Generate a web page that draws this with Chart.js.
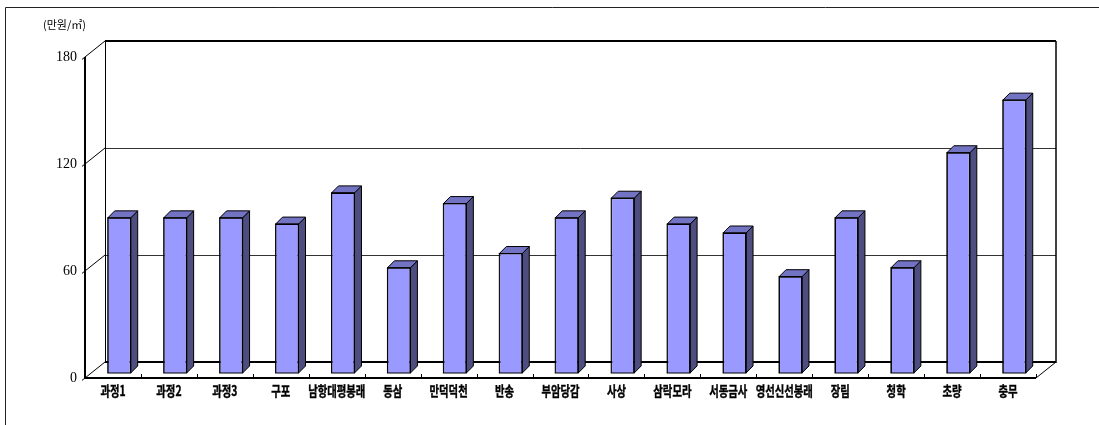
<!DOCTYPE html>
<html>
<head>
<meta charset="utf-8">
<script src="https://cdn.jsdelivr.net/npm/chart.js@4.4.1/dist/chart.umd.min.js"></script>
<style>
  html, body { margin: 0; padding: 0; background: #fff; }
  #wrap { width: 1099px; height: 425px; }
</style>
</head>
<body>
<div id="wrap"><canvas id="myChart" width="1099" height="425"></canvas></div>
<script>
var labels = ["과정1", "과정2", "과정3", "구포", "남항대평봉래", "동삼", "만덕덕천", "반송", "부암당감",
              "사상", "삼락모라", "서동금사", "영선신선봉래", "장림", "청학", "초량", "충무"];
var prices = [87, 87, 87, 83.5, 101, 59, 95, 67, 87, 98, 83.5, 78.5, 54, 87, 59, 123.5, 153];
var yTicks = [0, 60, 120, 180];
var unitLabel = "(만원/㎡)";

// box depth (front plane -> back wall) and bar placement inside it
var DEPTH_X = 20, DEPTH_Y = 16;
var BAR_SHIFT_X = 6.25, BAR_SHIFT_Y = 5;
var BAR_DX = 7, BAR_DY = 7;

function line(ctx, x1, y1, x2, y2) {
    ctx.beginPath();
    ctx.moveTo(x1, y1);
    ctx.lineTo(x2, y2);
    ctx.stroke();
}

var box3d = {
    id: 'box3d',
    beforeDatasetsDraw: function (chart) {
        var ctx = chart.ctx, a = chart.chartArea, ys = chart.scales.y;
        var L = a.left, R = a.right, B = a.bottom, T = a.top;
        ctx.save();
        ctx.strokeStyle = '#000';

        // back wall grid lines + diagonals on the left wall
        yTicks.forEach(function (v) {
            var yf = ys.getPixelForValue(v), yb = yf - DEPTH_Y;
            if (v === 0 || v === yTicks[yTicks.length - 1]) {
                ctx.lineWidth = 2;
                ctx.strokeStyle = '#000';
                line(ctx, L + DEPTH_X, Math.round(yb), R + DEPTH_X, Math.round(yb));
            } else {
                ctx.lineWidth = 1;
                ctx.strokeStyle = '#333';
                line(ctx, L + DEPTH_X, Math.round(yb) + 0.5, R + DEPTH_X, Math.round(yb) + 0.5);
            }
            ctx.strokeStyle = '#000';
            ctx.lineWidth = 1;
            line(ctx, L - 3, yf + 2.4, L + DEPTH_X, yb);
        });

        // back wall verticals
        ctx.lineWidth = 1;
        line(ctx, L + DEPTH_X + 0.5, T - DEPTH_Y, L + DEPTH_X + 0.5, B - DEPTH_Y);
        ctx.lineWidth = 1.5;
        line(ctx, R + DEPTH_X, T - DEPTH_Y, R + DEPTH_X, B - DEPTH_Y + 1);

        // floor right edge
        ctx.lineWidth = 1;
        line(ctx, R, B, R + DEPTH_X, B - DEPTH_Y);

        // front axes
        ctx.lineWidth = 2;
        line(ctx, L, T, L, B + 1);
        line(ctx, L, B, R, B);

        // category tick marks on the floor edge
        ctx.lineWidth = 1;
        var step = (R - L) / labels.length;
        for (var k = 0; k <= labels.length; k++) {
            var tx = Math.round(L + step * k) + 0.5;
            line(ctx, tx, B - 4, tx, B);
        }
        ctx.restore();

        // bars sit a little behind the front plane
        ctx.save();
        ctx.translate(BAR_SHIFT_X, -BAR_SHIFT_Y);
    },
    afterDatasetsDraw: function (chart) {
        var ctx = chart.ctx;
        var meta = chart.getDatasetMeta(0);
        ctx.lineWidth = 1;
        ctx.strokeStyle = '#000';
        meta.data.forEach(function (bar) {
            var p = bar.getProps(['x', 'y', 'base', 'width'], true);
            var l = p.x - p.width / 2, r = p.x + p.width / 2, t = p.y, b = p.base;
            // side face
            ctx.beginPath();
            ctx.moveTo(r, t);
            ctx.lineTo(r + BAR_DX, t - BAR_DY);
            ctx.lineTo(r + BAR_DX, b - BAR_DY);
            ctx.lineTo(r, b);
            ctx.closePath();
            ctx.fillStyle = '#4D4D80';
            ctx.fill();
            ctx.stroke();
            // top face
            ctx.beginPath();
            ctx.moveTo(l, t);
            ctx.lineTo(l + BAR_DX, t - BAR_DY);
            ctx.lineTo(r + BAR_DX, t - BAR_DY);
            ctx.lineTo(r, t);
            ctx.closePath();
            ctx.fillStyle = '#7373C4';
            ctx.fill();
            ctx.stroke();
            // front outline
            ctx.strokeRect(l, t, r - l, b - t);
        });
        ctx.restore();

        // category labels (condensed bold)
        var xs = chart.scales.x, a = chart.chartArea;
        ctx.save();
        ctx.fillStyle = '#000';
        ctx.strokeStyle = '#000';
        ctx.lineWidth = 0.4;
        ctx.font = 'bold 14px "Noto Sans CJK KR"';
        ctx.textAlign = 'center';
        ctx.textBaseline = 'middle';
        labels.forEach(function (t, i) {
            ctx.save();
            ctx.translate(xs.getPixelForValue(i), a.bottom + 13);
            ctx.scale(0.74, 1);
            ctx.fillText(t, 0, 0);
            ctx.strokeText(t, 0, 0);
            ctx.restore();
        });
        ctx.restore();
    },
    afterDraw: function (chart) {
        var ctx = chart.ctx;
        ctx.save();
        // outer frame
        ctx.strokeStyle = '#222';
        ctx.lineWidth = 1;
        ctx.beginPath();
        ctx.moveTo(5.5, chart.height);
        ctx.lineTo(5.5, 7.5);
        ctx.lineTo(chart.width, 7.5);
        ctx.stroke();
        // unit
        ctx.fillStyle = '#000';
        ctx.font = '11px "Noto Sans CJK KR"';
        ctx.textAlign = 'left';
        ctx.textBaseline = 'middle';
        ctx.fillText(unitLabel, 43, 25);
        ctx.restore();
    }
};

var ctx = document.getElementById("myChart").getContext('2d');
var myChart = new Chart(ctx, {
    type: 'bar',
    data: {
        labels: labels,
        datasets: [{
            data: prices,
            backgroundColor: '#9999FF',
            borderColor: '#000',
            borderWidth: 1,
            barPercentage: 0.41,
            categoryPercentage: 1
        }]
    },
    options: {
        responsive: false,
        animation: false,
        devicePixelRatio: 1,
        layout: { padding: { top: 57, right: 63, bottom: 47, left: 0 } },
        plugins: { legend: { display: false }, tooltip: { enabled: false } },
        scales: {
            x: { display: false },
            y: {
                min: 0,
                max: 180,
                ticks: {
                    stepSize: 60,
                    color: '#000',
                    padding: 8,
                    font: { family: 'Liberation Serif', size: 14 }
                },
                grid: { display: false, drawTicks: false },
                border: { display: false },
                afterFit: function (scale) { scale.width = 85; }
            }
        }
    },
    plugins: [box3d]
});
</script>
</body>
</html>
